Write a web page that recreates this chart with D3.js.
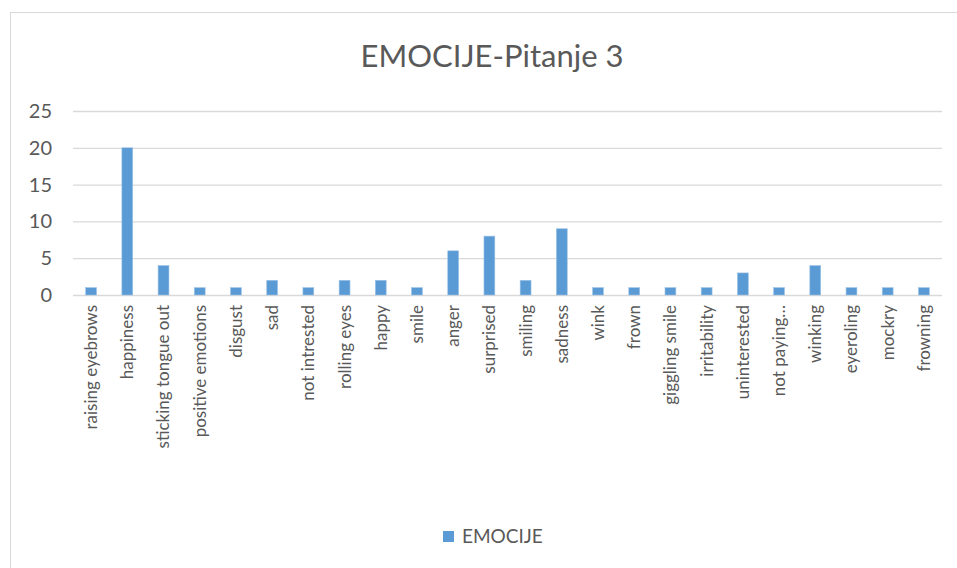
<!DOCTYPE html>
<html>
<head>
<meta charset="utf-8">
<script src="https://cdn.jsdelivr.net/npm/d3@7"></script>
<style>
  body { margin: 0; background: #fff; }
  text { font-family: Lato, "Open Sans", sans-serif; fill: #595959; }
</style>
</head>
<body>
<script>
// values
var categories = [
    "raising eyebrows", "happiness", "sticking tongue out", "positive emotions",
    "disgust", "sad", "not intrested", "rolling eyes", "happy", "smile",
    "anger", "surprised", "smiling", "sadness", "wink", "frown",
    "giggling smile", "irritability", "uninterested", "not paying…",
    "winking", "eyeroling", "mockry", "frowning"];
var emocije = [1, 20, 4, 1, 1, 2, 1, 2, 2, 1, 6, 8, 2, 9, 1, 1, 1, 1, 3, 1, 4, 1, 1, 1];
var yTicks = [0, 5, 10, 15, 20, 25];
var seriesName = "EMOCIJE";
var title = "EMOCIJE-Pitanje 3";

var svgWidth = 957, svgHeight = 568;
var plot = {left: 73, right: 942, top: 111, bottom: 295};

var svg = d3.select("body")
    .append("svg")
    .attr("width", svgWidth)
    .attr("height", svgHeight);

// chart frame
svg.append("rect")
    .attr("x", 10.5).attr("y", 12.5)
    .attr("width", 960).attr("height", 570)
    .attr("fill", "#fff")
    .attr("stroke", "#d9d9d9");

svg.append("text")
    .attr("x", 492).attr("y", 67)
    .attr("text-anchor", "middle")
    .style("font-size", "31px")
    .text(title);

var xScale = d3.scaleBand()
    .domain(categories)
    .range([plot.left, plot.right])
    .paddingInner(0.7)
    .paddingOuter(0.35);

var yScale = d3.scaleLinear()
    .domain([0, 25])
    .range([plot.bottom, plot.top]);

// gridlines
svg.append("g")
    .selectAll("line")
    .data(yTicks)
    .enter()
    .append("line")
    .attr("x1", plot.left).attr("x2", plot.right)
    .attr("y1", function(d) { return yScale(d) + 0.5; })
    .attr("y2", function(d) { return yScale(d) + 0.5; })
    .attr("stroke", "#d9d9d9")
    .attr("stroke-width", 1.3);

var yAxis = d3.axisLeft(yScale)
    .tickValues(yTicks)
    .tickSize(0)
    .tickPadding(0);

svg.append("g")
    .attr("transform", "translate(52,0)")
    .call(yAxis)
    .call(function(g) { g.select(".domain").remove(); })
    .selectAll("text")
    .attr("fill", "#595959")
    .style("font-family", "Lato, sans-serif")
    .style("font-size", "20px");

svg.append("g")
    .selectAll("rect")
    .data(emocije)
    .enter()
    .append("rect")
    .attr("x", function(d, i) { return xScale(categories[i]); })
    .attr("width", xScale.bandwidth())
    .attr("y", function(d) { return yScale(d); })
    .attr("height", function(d) { return yScale(0) - yScale(d); })
    .attr("fill", "#5b9bd5")
    .attr("stroke", "#9dc3e6")
    .attr("stroke-width", 0.6);

var xAxis = d3.axisBottom(xScale)
    .tickSize(0)
    .tickPadding(0);

svg.append("g")
    .attr("transform", "translate(0," + plot.bottom + ")")
    .call(xAxis)
    .call(function(g) { g.select(".domain").remove(); })
    .selectAll("text")
    .attr("fill", "#595959")
    .style("font-family", "Lato, sans-serif")
    .style("font-size", "17px")
    .attr("text-anchor", "end")
    .attr("transform", "rotate(-90)")
    .attr("x", -10)
    .attr("y", 0)
    .attr("dy", "0.35em");

// legend
var legend = svg.append("g");
legend.append("rect")
    .attr("x", 443).attr("y", 531)
    .attr("width", 11).attr("height", 11)
    .attr("fill", "#5b9bd5");
legend.append("text")
    .attr("x", 462).attr("y", 543)
    .style("font-size", "19px")
    .text(seriesName);
</script>
</body>
</html>
